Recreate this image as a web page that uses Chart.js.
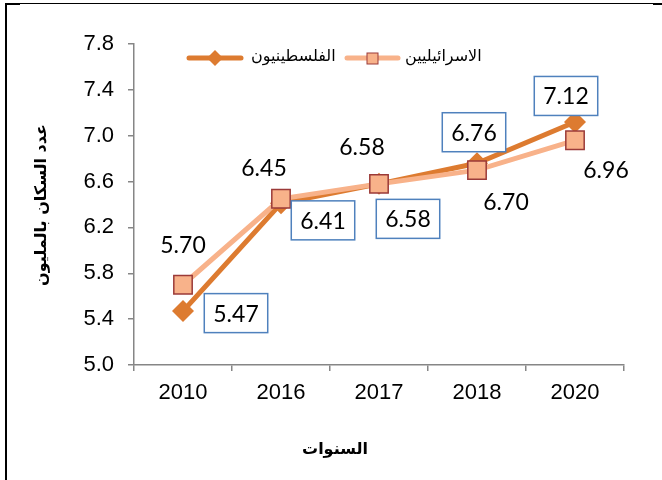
<!DOCTYPE html>
<html>
<head>
<meta charset="utf-8">
<script src="https://cdn.jsdelivr.net/npm/chart.js@4.4.1/dist/chart.umd.min.js"></script>
<style>
    html, body { margin: 0; padding: 0; background: #fff; }
    #wrap { position: relative; width: 662px; height: 480px; }
    .edge { position: absolute; background: #000; }
</style>
</head>
<body>
<div id="wrap">
    <div class="edge" style="left:5px;top:3px;width:2px;height:477px;"></div>
    <div class="edge" style="left:5px;top:3px;width:657px;height:1px;"></div>
    <div class="edge" style="left:5px;top:3px;width:15px;height:2px;"></div>
    <div class="edge" style="left:653px;top:3px;width:9px;height:2px;"></div>
    <canvas id="popChart" width="662" height="480"></canvas>
</div>
<script>
const years = ['2010', '2016', '2017', '2018', '2020'];
const palestinians = [5.47, 6.41, 6.58, 6.76, 7.12];
const israelis = [5.70, 6.45, 6.58, 6.70, 6.96];
const seriesNames = ['الفلسطينيون', 'الاسرائيليين'];
const yTitle = 'عدد السكان بالمليون';
const xTitle = 'السنوات';

// where each value label sits relative to its point (px)
const palLabelOffsets = [[53, 2], [42, 17], [29, 35], [-3, -31], [-9, -26]];
const isrLabelOffsets = [[0, -40], [-17, -31], [-17, -37], [29, 31], [31, 29]];

const PAL_COLOR = '#DD7B30';
const ISR_COLOR = '#F8B28A';
const ISR_EDGE = '#9B3A38';
const ARABIC_FONT = '"DejaVu Sans", Arial, sans-serif';

const valueLabels = {
    id: 'valueLabels',
    afterDatasetsDraw(chart) {
        const ctx = chart.ctx;
        ctx.save();
        ctx.font = '23px Lato, "Liberation Sans", sans-serif';
        ctx.textAlign = 'center';
        ctx.textBaseline = 'middle';
        chart.data.datasets.forEach((ds, di) => {
            const meta = chart.getDatasetMeta(di);
            meta.data.forEach((pt, i) => {
                const off = ds.labelOffsets[i];
                const x = pt.x + off[0];
                const y = pt.y + off[1];
                const txt = ds.data[i].toFixed(2);
                if (ds.boxed) {
                    const w = ctx.measureText(txt).width + 18;
                    const h = 39;
                    ctx.fillStyle = '#fff';
                    ctx.fillRect(x - w / 2, y - h / 2, w, h);
                    ctx.strokeStyle = '#4F81BD';
                    ctx.lineWidth = 1.5;
                    ctx.strokeRect(x - w / 2, y - h / 2, w, h);
                }
                ctx.fillStyle = '#000';
                ctx.fillText(txt, x, y + 1);
            });
        });
        ctx.restore();
    }
};

const legendAndTitles = {
    id: 'legendAndTitles',
    afterDraw(chart) {
        const ctx = chart.ctx;
        ctx.save();
        // legend
        ctx.lineCap = 'round';
        ctx.lineWidth = 5;
        ctx.strokeStyle = PAL_COLOR;
        ctx.beginPath(); ctx.moveTo(189, 58); ctx.lineTo(241, 58); ctx.stroke();
        ctx.fillStyle = PAL_COLOR;
        ctx.beginPath();
        ctx.moveTo(207, 58); ctx.lineTo(215, 50); ctx.lineTo(223, 58); ctx.lineTo(215, 66);
        ctx.closePath(); ctx.fill();
        ctx.strokeStyle = ISR_COLOR;
        ctx.beginPath(); ctx.moveTo(347, 58); ctx.lineTo(398, 58); ctx.stroke();
        ctx.fillStyle = ISR_COLOR;
        ctx.fillRect(367, 53, 11, 11);
        ctx.lineWidth = 1;
        ctx.strokeStyle = ISR_EDGE;
        ctx.strokeRect(367, 53, 11, 11);

        ctx.fillStyle = '#000';
        ctx.textBaseline = 'middle';
        ctx.textAlign = 'left';
        ctx.font = '16px ' + ARABIC_FONT;
        ctx.fillText(seriesNames[0], 251, 57);
        ctx.fillText(seriesNames[1], 405, 57);

        // axis titles
        ctx.font = 'bold 16px ' + ARABIC_FONT;
        ctx.textAlign = 'center';
        ctx.fillText(xTitle, 335, 450);
        ctx.translate(42, 205);
        ctx.rotate(-Math.PI / 2);
        ctx.fillText(yTitle, 0, 0);
        ctx.restore();
    }
};

new Chart(document.getElementById('popChart').getContext('2d'), {
    type: 'line',
    data: {
        labels: years,
        datasets: [
            {
                label: seriesNames[0],
                data: palestinians,
                borderColor: PAL_COLOR,
                backgroundColor: PAL_COLOR,
                borderWidth: 5,
                pointStyle: 'rectRot',
                pointRadius: 11,
                pointBorderWidth: 0,
                pointBackgroundColor: PAL_COLOR,
                order: 1,
                boxed: true,
                labelOffsets: palLabelOffsets
            },
            {
                label: seriesNames[1],
                data: israelis,
                borderColor: ISR_COLOR,
                backgroundColor: ISR_COLOR,
                borderWidth: 5,
                pointStyle: 'rect',
                pointRadius: 13,
                pointBorderWidth: 1.5,
                pointBorderColor: ISR_EDGE,
                pointBackgroundColor: ISR_COLOR,
                order: 0,
                boxed: false,
                labelOffsets: isrLabelOffsets
            }
        ]
    },
    options: {
        responsive: false,
        animation: false,
        layout: { padding: { left: 8, top: 44, right: 38, bottom: 0 } },
        plugins: {
            legend: { display: false },
            tooltip: { enabled: false }
        },
        scales: {
            x: {
                offset: true,
                grid: { offset: true, drawOnChartArea: false, color: '#868686', tickLength: 6, lineWidth: 1.5 },
                border: { color: '#868686', width: 1.5 },
                ticks: { color: '#000', padding: 9, font: { family: 'Arial, "Liberation Sans"', size: 22 } },
                afterFit(scale) { scale.height = 115; }
            },
            y: {
                min: 5.0,
                max: 7.8,
                grid: { drawOnChartArea: false, color: '#868686', tickLength: 6, lineWidth: 1.5 },
                border: { color: '#868686', width: 1.5 },
                ticks: {
                    stepSize: 0.4,
                    color: '#000',
                    padding: 14,
                    font: { family: 'Arial, "Liberation Sans"', size: 22 },
                    callback: v => Number(v).toFixed(1)
                },
                afterFit(scale) { scale.width = 126; }
            }
        }
    },
    plugins: [valueLabels, legendAndTitles]
});
</script>
</body>
</html>
